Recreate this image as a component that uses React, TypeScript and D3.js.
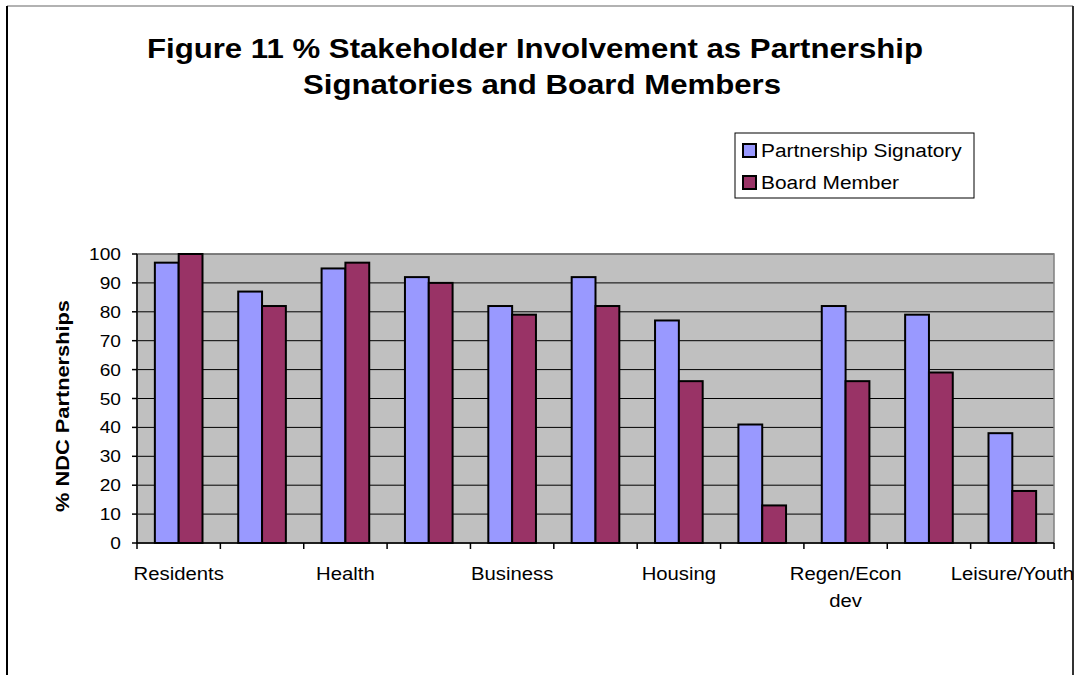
import React from "react";
import * as d3 from "d3";

const categories = [
  "Residents",
  "Police",
  "Health",
  "Education",
  "Business",
  "Voluntary",
  "Housing",
  "Faith",
  "Regen/Econ dev",
  "Employment",
  "Leisure/Youth",
];
const signatory = [97, 87, 95, 92, 82, 92, 77, 41, 82, 79, 38];
const board = [100, 82, 97, 90, 79, 82, 56, 13, 56, 59, 18];
const seriesNames = ["Partnership Signatory", "Board Member"];
const seriesColors = ["#9999FF", "#993366"];
const yTicks = [0, 10, 20, 30, 40, 50, 60, 70, 80, 90, 100];
const titleLines = [
  "Figure 11 % Stakeholder Involvement as Partnership",
  "Signatories and Board Members",
];

const W = 1080;
const H = 675;
const plot = { left: 137, right: 1054, top: 254, bottom: 543 };
const FONT = "'Liberation Sans', Arial, sans-serif";
const SX = 1.16;

function T(props: {
  x: number;
  y: number;
  size: number;
  anchor?: "start" | "middle" | "end";
  bold?: boolean;
  sx?: number;
  children: React.ReactNode;
}) {
  const { x, y, size, anchor = "start", bold = false, sx = SX, children } = props;
  return (
    <text
      transform={`translate(${x},${y}) scale(${sx},1)`}
      textAnchor={anchor}
      fontSize={size}
      fontWeight={bold ? "bold" : "normal"}
      fill="#000"
    >
      {children}
    </text>
  );
}

export default function App() {
  const x = d3
    .scaleBand<string>()
    .domain(categories)
    .range([plot.left, plot.right])
    .paddingInner(0)
    .paddingOuter(0);
  const y = d3.scaleLinear().domain([0, 100]).range([plot.bottom, plot.top]);
  const bw = x.bandwidth();
  const barW = bw / 3.5;
  const groupOff = (bw - 2 * barW) / 2;
  const series = [signatory, board];

  return (
    <svg
      width={W}
      height={H}
      style={{ position: "absolute", left: 0, top: 0, background: "#fff" }}
      fontFamily={FONT}
    >
      {/* outer border */}
      <line x1={7} y1={6} x2={1073} y2={6} stroke="#999" strokeWidth={1.5} />
      <line x1={7} y1={6} x2={7} y2={H} stroke="#000" strokeWidth={2} />
      <line x1={1073} y1={6} x2={1073} y2={H} stroke="#333" strokeWidth={2} />

      {/* title */}
      <T x={535} y={58} size={27} anchor="middle" bold sx={1.155}>
        {titleLines[0]}
      </T>
      <T x={542} y={94} size={27} anchor="middle" bold sx={1.155}>
        {titleLines[1]}
      </T>

      {/* plot background */}
      <rect
        x={plot.left}
        y={plot.top}
        width={plot.right - plot.left}
        height={plot.bottom - plot.top}
        fill="#C0C0C0"
      />
      {/* gridlines */}
      {yTicks.map((t) => (
        <line
          key={"g" + t}
          x1={plot.left}
          x2={plot.right}
          y1={y(t)}
          y2={y(t)}
          stroke="#000"
          strokeWidth={1}
        />
      ))}
      {/* plot border */}
      <rect
        x={plot.left}
        y={plot.top}
        width={plot.right - plot.left}
        height={plot.bottom - plot.top}
        fill="none"
        stroke="#808080"
        strokeWidth={1.5}
      />

      {/* bars */}
      {categories.map((c, i) =>
        series.map((s, k) => (
          <rect
            key={c + k}
            x={(x(c) as number) + groupOff + k * barW}
            y={y(s[i])}
            width={barW}
            height={y(0) - y(s[i])}
            fill={seriesColors[k]}
            stroke="#000"
            strokeWidth={2}
          />
        ))
      )}

      {/* y axis */}
      <line x1={plot.left} x2={plot.left} y1={plot.top} y2={plot.bottom} stroke="#000" strokeWidth={1.5} />
      {yTicks.map((t) => (
        <g key={"yt" + t}>
          <line x1={plot.left - 5} x2={plot.left} y1={y(t)} y2={y(t)} stroke="#000" strokeWidth={1.5} />
          <T x={plot.left - 16} y={y(t) + 6} size={16.5} anchor="end">
            {t}
          </T>
        </g>
      ))}

      {/* x axis */}
      <line x1={plot.left} x2={plot.right} y1={plot.bottom} y2={plot.bottom} stroke="#000" strokeWidth={1.5} />
      {categories.concat([""]).map((c, i) => {
        const xx = plot.left + i * bw;
        return (
          <line key={"xt" + i} x1={xx} x2={xx} y1={plot.bottom} y2={plot.bottom + 6} stroke="#000" strokeWidth={1.5} />
        );
      })}
      {categories.map((c, i) => {
        if (i % 2 !== 0) return null;
        const cx = (x(c) as number) + bw / 2;
        const parts = c === "Regen/Econ dev" ? ["Regen/Econ", "dev"] : [c];
        return (
          <g key={"xl" + c}>
            {parts.map((p, j) => (
              <T key={j} x={cx} y={580 + j * 27} size={17.5} anchor="middle">
                {p}
              </T>
            ))}
          </g>
        );
      })}

      {/* y axis title */}
      <text
        transform={`translate(69,${406}) rotate(-90)`}
        textAnchor="middle"
        fontSize={18.5}
        fontWeight="bold"
        textLength={212}
        lengthAdjust="spacingAndGlyphs"
      >
        % NDC Partnerships
      </text>

      {/* legend */}
      <rect x={735} y={133} width={239} height={65} fill="#fff" stroke="#000" strokeWidth={1} />
      {seriesNames.map((n, k) => (
        <g key={n}>
          <rect x={743} y={144 + k * 32} width={13} height={13} fill={seriesColors[k]} stroke="#000" strokeWidth={2} />
          <T x={761} y={157 + k * 32} size={18}>
            {n}
          </T>
        </g>
      ))}
    </svg>
  );
}
